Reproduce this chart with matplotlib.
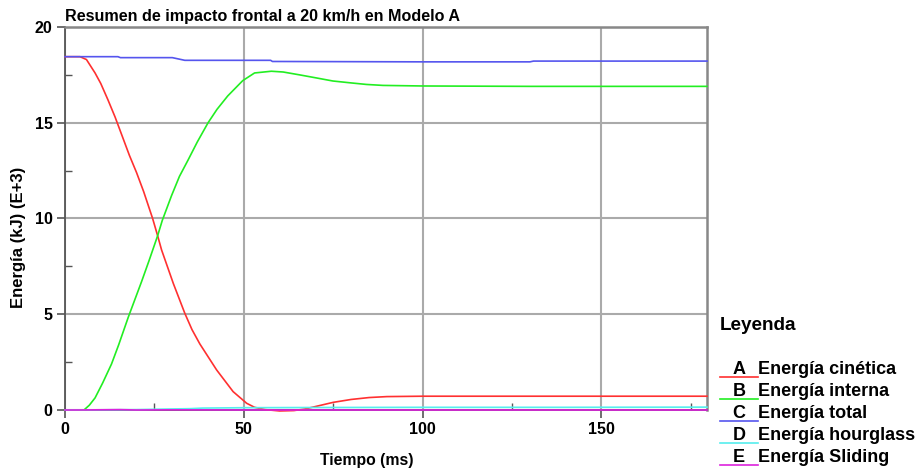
import matplotlib
matplotlib.use("Agg")
import matplotlib.pyplot as plt
from matplotlib.lines import Line2D

plt.rcParams['font.family'] = ['Liberation Sans', 'DejaVu Sans']

# ---- data (time in ms, energy in kJ E+3) ----
t_kin = [0, 4.2, 6, 8.4, 10, 12, 14, 16, 18, 20, 22, 24.5, 25.9, 27, 30.3, 33.5, 35.5,
         37.7, 42.4, 47, 50.8, 53, 56, 60, 64, 67, 70, 75, 80, 85, 90, 100, 120, 150, 179.5]
e_kin = [18.45, 18.45, 18.3, 17.6, 17.05, 16.2, 15.3, 14.3, 13.3, 12.4, 11.4, 10.0, 9.1, 8.36, 6.6, 5.05, 4.2,
         3.45, 2.09, 0.96, 0.35, 0.14, 0.02, -0.05, -0.03, 0.05, 0.18, 0.4, 0.55, 0.65, 0.7, 0.72, 0.72, 0.72, 0.72]

t_int = [0, 5.3, 6.8, 8.4, 10.5, 13, 15, 17.7, 19.5, 21.4, 23.5, 25.9, 27.2, 29.8, 32, 34.4, 37, 40,
         42.5, 45.5, 49.7, 53, 57.7, 61, 65.6, 70, 74.9, 80, 84.3, 88.9, 100, 130, 179.5]
e_int = [0, 0, 0.25, 0.63, 1.4, 2.4, 3.4, 4.85, 5.75, 6.7, 7.8, 9.1, 9.9, 11.2, 12.2, 13.05, 14.0, 15.0,
         15.7, 16.4, 17.2, 17.6, 17.69, 17.65, 17.5, 17.35, 17.18, 17.08, 17.0, 16.95, 16.92, 16.9, 16.9]

t_tot = [0, 14.8, 15.5, 30, 33.5, 57.5, 58, 100, 130, 131, 179.5]
e_tot = [18.45, 18.45, 18.40, 18.40, 18.26, 18.26, 18.20, 18.18, 18.18, 18.22, 18.22]

t_hg = [0, 10, 20, 28.5, 35, 38.5, 50, 70, 100, 140, 179.5]
e_hg = [0.0, 0.01, 0.02, 0.05, 0.07, 0.1, 0.12, 0.13, 0.14, 0.14, 0.15]

t_sl = [0, 3.6, 15.4, 20, 30, 50, 100, 179.5]
e_sl = [0.0, 0.0, 0.02, 0.0, 0.01, 0.0, 0.0, 0.0]

series_t = [t_kin, t_int, t_tot, t_hg, t_sl]
series_e = [e_kin, e_int, e_tot, e_hg, e_sl]
letters = ["A", "B", "C", "D", "E"]
names = ["Energía cinética", "Energía interna", "Energía total", "Energía hourglass", "Energía Sliding"]
colors = ["#ff3030", "#22ee22", "#5555ee", "#55eeee", "#dd22dd"]

title = "Resumen de impacto frontal a 20 km/h en Modelo A"
xlabel = "Tiempo (ms)"
ylabel = "Energía (kJ) (E+3)"
legend_title = "Leyenda"

W, H = 922, 474
fig = plt.figure(figsize=(W/100, H/100), dpi=100)
ax = fig.add_axes([65/W, 1-410/H, (707-65)/W, (410-27)/H])

for t, e, c in zip(series_t, series_e, colors):
    ax.plot(t, e, color=c, lw=1.2, clip_on=False, zorder=3)

ax.set_xlim(0, 179.5)
ax.set_ylim(0, 20)
ax.set_xticks([0, 50, 100, 150])
ax.set_yticks([0, 5, 10, 15, 20])
ax.set_xticks([25, 75, 125, 175], minor=True)
ax.set_yticks([2.5, 7.5, 12.5, 17.5], minor=True)
ax.tick_params(which='major', direction='out', length=6, width=1.2, color='#555555',
               labelsize=11.5, pad=3)
ax.tick_params(which='minor', direction='in', length=5, width=1.0, color='#555555')
for lab in ax.get_xticklabels() + ax.get_yticklabels():
    lab.set_fontweight('bold')
ax.grid(True, which='major', color='#aaaaaa', lw=1.5, zorder=0)
ax.set_axisbelow(True)
for s in ['left', 'bottom']:
    ax.spines[s].set_color('#555555')
    ax.spines[s].set_linewidth(1.3)
for s in ['top', 'right']:
    ax.spines[s].set_color('#888888')
    ax.spines[s].set_linewidth(1.8)

ax.set_title(title, loc='left', fontsize=11.6, fontweight='bold', pad=4)
fig.text(367/W, 1-460/H, xlabel, fontsize=11.3, fontweight='bold', ha='center', va='center')
fig.text(18/W, 1-237/H, ylabel, fontsize=12, fontweight='bold', ha='center', va='center',
         rotation=90)

# legend drawn outside the axes
fig.text(720/W, 1-326/H, legend_title, fontsize=13.6, fontweight='bold', va='center', ha='left')
y0 = 370
for i, (L, n, c) in enumerate(zip(letters, names, colors)):
    yc = y0 + i*22
    fig.text(739/W, 1-yc/H, L, fontsize=13, fontweight='bold', va='center', ha='center')
    fig.text(758/W, 1-yc/H, n, fontsize=13, fontweight='bold', va='center', ha='left')
    fig.add_artist(Line2D([720/W, 758/W], [1-(yc+7)/H]*2, color=c, lw=1.2,
                          transform=fig.transFigure))

fig.savefig("out.png", dpi=100)
